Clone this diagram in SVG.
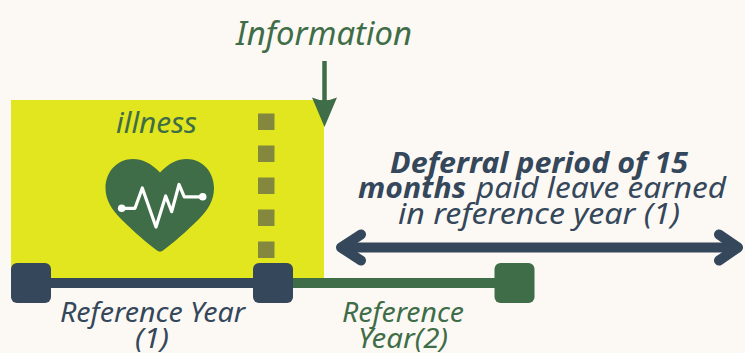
<svg xmlns="http://www.w3.org/2000/svg" width="745" height="353" viewBox="0 0 745 353">
<style>
text{font-family:"Noto Sans","Open Sans","Liberation Sans",sans-serif;font-style:italic;text-anchor:start}
.g{fill:#3f6d47}.n{fill:#35475a}
.t27{font-size:27px}.t29{font-size:29px}
.sq{fill:#84883e}
</style>
<rect width="745" height="353" fill="#fcf9f5"/>
<g id="illness-block">
<rect x="11" y="100" width="313" height="180" fill="#e2e61e"/>
<text class="g t29" x="116" y="133" textLength="81" lengthAdjust="spacingAndGlyphs">illness</text>
</g>
<g id="dotted-line">
<rect class="sq" x="258" y="113.500" width="16.500" height="16.500"/>
<rect class="sq" x="258" y="145.500" width="16.500" height="16.500"/>
<rect class="sq" x="258" y="177.500" width="16.500" height="16.500"/>
<rect class="sq" x="258" y="209.500" width="16.500" height="16.500"/>
<rect class="sq" x="258" y="241.500" width="16.500" height="16.500"/>
</g>
<g id="heart">
<path class="g" d="M160 172.500C151 163 142 159 133 159C117 159 105.500 172 105.500 188C105.500 200 112 210 121 219C134 232 147 243 157 250.500C159 252 161 252 163 250.500C173 243 186 232 199 219C208 210 214 200 214 188C214 172 202.500 159 186.500 159C177.500 159 169 163 160 172.500Z"/>
<path d="M121.700 208.300H135L142.300 188L156 227L165.700 196L171.700 211.700L179 184.500L184.300 196.800H202.700" fill="none" stroke="#fff" stroke-width="3.200" stroke-linejoin="round" stroke-linecap="round"/>
<circle cx="121.700" cy="208.300" r="3.800" fill="#fff"/>
<circle cx="202.700" cy="196.800" r="3.800" fill="#fff"/>
</g>
<g id="connectors">
<rect class="g" x="285" y="278" width="225" height="10"/>
<rect class="n" x="40" y="278" width="225" height="10"/>
<path d="M324.500 61V110" stroke="#3f6d47" stroke-width="4.500" fill="none"/>
<path class="g" d="M312 97.500Q324.500 103 337 97.500L324.500 127Z"/>
<path d="M345 247.500H734" fill="none" stroke="#35475a" stroke-width="10"/>
<path d="M361 234.500L341 247.500L361 260.500M719 234.500L738 247.500L719 260.500" fill="none" stroke="#35475a" stroke-width="10" stroke-linecap="round" stroke-linejoin="round"/>
</g>
<g id="start-year-1"><rect class="n" x="11" y="263" width="40" height="40" rx="6"/></g>
<g id="end-year-1"><rect class="n" x="253" y="263" width="40" height="40" rx="6"/></g>
<g id="end-year-2"><rect class="g" x="494.500" y="263" width="40" height="40" rx="6"/></g>
<g id="information-label">
<text class="g" x="236" y="45" font-size="33" textLength="176" lengthAdjust="spacingAndGlyphs">Information</text>
</g>
<g id="deferral-label">
<text class="n" x="390" y="173" font-size="29" font-weight="700" textLength="298" lengthAdjust="spacingAndGlyphs">Deferral period of 15</text>
<text class="n" x="358" y="198" font-size="29" font-weight="700" textLength="108" lengthAdjust="spacingAndGlyphs">months</text>
<text class="n" x="476" y="198" font-size="29" textLength="250" lengthAdjust="spacingAndGlyphs">paid leave earned</text>
<text class="n" x="398" y="224" font-size="29" textLength="282" lengthAdjust="spacingAndGlyphs">in reference year (1)</text>
</g>
<g id="year-1-label">
<text class="n t27" x="60" y="322" textLength="185" lengthAdjust="spacingAndGlyphs">Reference Year</text>
<text class="n t27" x="135" y="348" textLength="34" lengthAdjust="spacingAndGlyphs">(1)</text>
</g>
<g id="year-2-label">
<text class="g t27" x="342" y="322" textLength="122" lengthAdjust="spacingAndGlyphs">Reference</text>
<text class="g t27" x="358" y="348" textLength="90" lengthAdjust="spacingAndGlyphs">Year(2)</text>
</g>
</svg>
